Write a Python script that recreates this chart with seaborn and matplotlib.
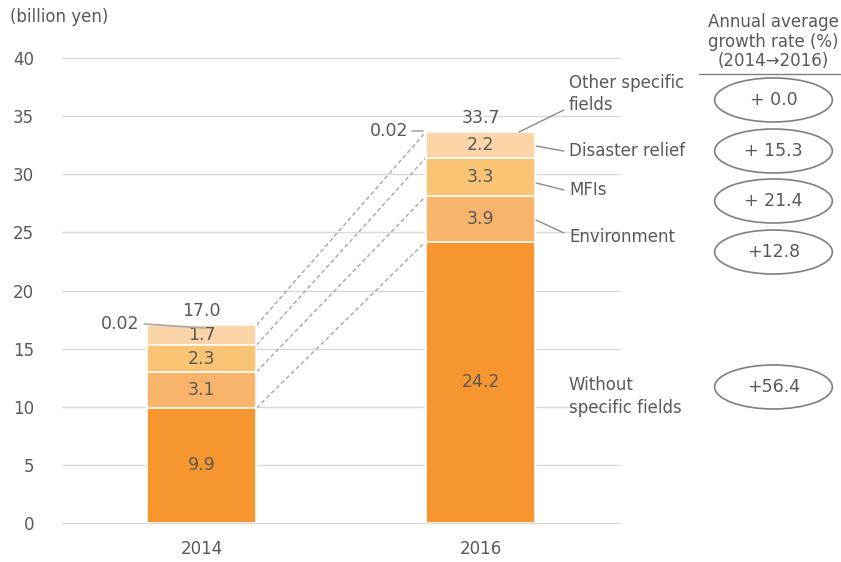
import matplotlib
matplotlib.use("Agg")
import matplotlib.pyplot as plt
from matplotlib.patches import Ellipse
import seaborn as sns
import pandas as pd
import numpy as np

years = ["2014", "2016"]
without_fields = [9.9, 24.2]
environment = [3.1, 3.9]
mfis = [2.3, 3.3]
disaster = [1.7, 2.2]
other_fields = [0.02, 0.02]
totals = ["17.0", "33.7"]
categories = ["Without\nspecific fields", "Environment", "MFIs", "Disaster relief", "Other specific\nfields"]
growth = ["+56.4", "+12.8", "+ 21.4", "+ 15.3", "+ 0.0"]
yticks = [0, 5, 10, 15, 20, 25, 30, 35, 40]

colors = ["#F7962F", "#F9B46B", "#FAC475", "#FBD5A8", "#FBD5A8"]
TXT = "#595959"
GRID = "#D9D9D9"

sns.set_theme(style="white")
plt.rcParams["font.family"] = ["DejaVu Sans"]

layers = [without_fields, environment, mfis, disaster, other_fields]
cum = np.cumsum(np.array(layers), axis=0)

fig = plt.figure(figsize=(8.41, 5.62), dpi=100)
ax = fig.add_axes([62/841, 1-523/562, (620-62)/841, (523-58)/562])

W = 0.394
# draw cumulative bars, largest first
for i in range(len(layers)-1, -1, -1):
    df = pd.DataFrame({"year": years, "value": cum[i]})
    sns.barplot(data=df, x="year", y="value", color=colors[i], width=W,
                edgecolor="white", linewidth=1.2, ax=ax, zorder=3,
                saturation=1)

ax.set_ylim(0, 40)
ax.set_xlim(-0.5, 1.5)
ax.set_yticks(yticks)
ax.set_yticklabels([str(t) for t in yticks])
ax.yaxis.grid(False)
for t in yticks:
    ax.axhline(t, color=GRID, linewidth=1.0, zorder=0, clip_on=False)
for s in ax.spines.values():
    s.set_visible(False)
ax.tick_params(axis="y", length=0, pad=20, labelsize=12, labelcolor=TXT)
ax.tick_params(axis="x", length=0, pad=12, labelsize=12, labelcolor=TXT)
ax.set_xlabel("")
ax.set_ylabel("")

# segment labels
for j in range(2):
    bottoms = [0] + list(cum[:-1, j])
    for i in range(4):
        v = layers[i][j]
        ax.text(j, bottoms[i] + v/2, f"{v:.1f}", ha="center", va="center",
                fontsize=12.5, color=TXT, zorder=5)
    ax.text(j, cum[-1, j] + 1.25, totals[j], ha="center", va="center",
            fontsize=12.5, color=TXT)

# dashed connectors
for i in range(4):
    yi = cum[i] if i < 3 else cum[4]
    ax.plot([0 + W/2, 1 - W/2], [yi[0], yi[1]], ls=(0, (3, 2)), color="#A6A6A6",
            lw=1, zorder=2)

# 0.02 labels
ax.text(-0.293, 17.15, "0.02", ha="center", va="center", fontsize=12.5, color=TXT)
ax.plot([-0.205, 0.011], [17.12, 16.77], color="#A6A6A6", lw=1.2, zorder=6)
ax.text(0.672, 33.72, "0.02", ha="center", va="center", fontsize=12.5, color=TXT)
ax.plot([0.755, 0.795], [33.72, 33.72], color="#A6A6A6", lw=1.2, zorder=6)

# right category labels
lab_y = [10.92, 24.6, 28.65, 32.0, 36.9]
for name, y in zip(categories, lab_y):
    ax.text(1.317, y, name, ha="left", va="center", fontsize=12, color=TXT,
            linespacing=1.35, clip_on=False)
leaders = [((1.138, 33.63), (1.299, 35.53)),
           ((1.199, 32.43), (1.299, 32.0)),
           ((1.199, 29.25), (1.299, 28.65)),
           ((1.199, 26.06), (1.299, 24.95))]
for (a, b) in leaders:
    ax.plot([a[0], b[0]], [a[1], b[1]], color="#8C8C8C", lw=1, clip_on=False,
            zorder=6)

# growth rate column
xc = 1 + (775 - 481.5) / 279.5
ax.text(xc, 41.4, "Annual average\ngrowth rate (%)\n(2014\u21922016)", ha="center",
        va="center", fontsize=12, color=TXT, linespacing=1.1, clip_on=False)
ax.plot([1.782, 2.29], [38.62, 38.62], color="#7F7F7F", lw=1, clip_on=False)
ell_y = [11.7, 23.31, 27.7, 32.0, 36.39]
for g, y in zip(growth, ell_y):
    e = Ellipse((xc, y), 0.422, 3.785, facecolor="white", edgecolor="#7F7F7F",
                lw=1.2, clip_on=False, transform=ax.transData)
    ax.add_patch(e)
    ax.text(xc, y, g, ha="center", va="center", fontsize=12.5, color=TXT,
            clip_on=False)

fig.text(10/841, 1-17/562, "(billion yen)", ha="left", va="center",
         fontsize=12, color=TXT)

fig.savefig("out.png", dpi=100)
